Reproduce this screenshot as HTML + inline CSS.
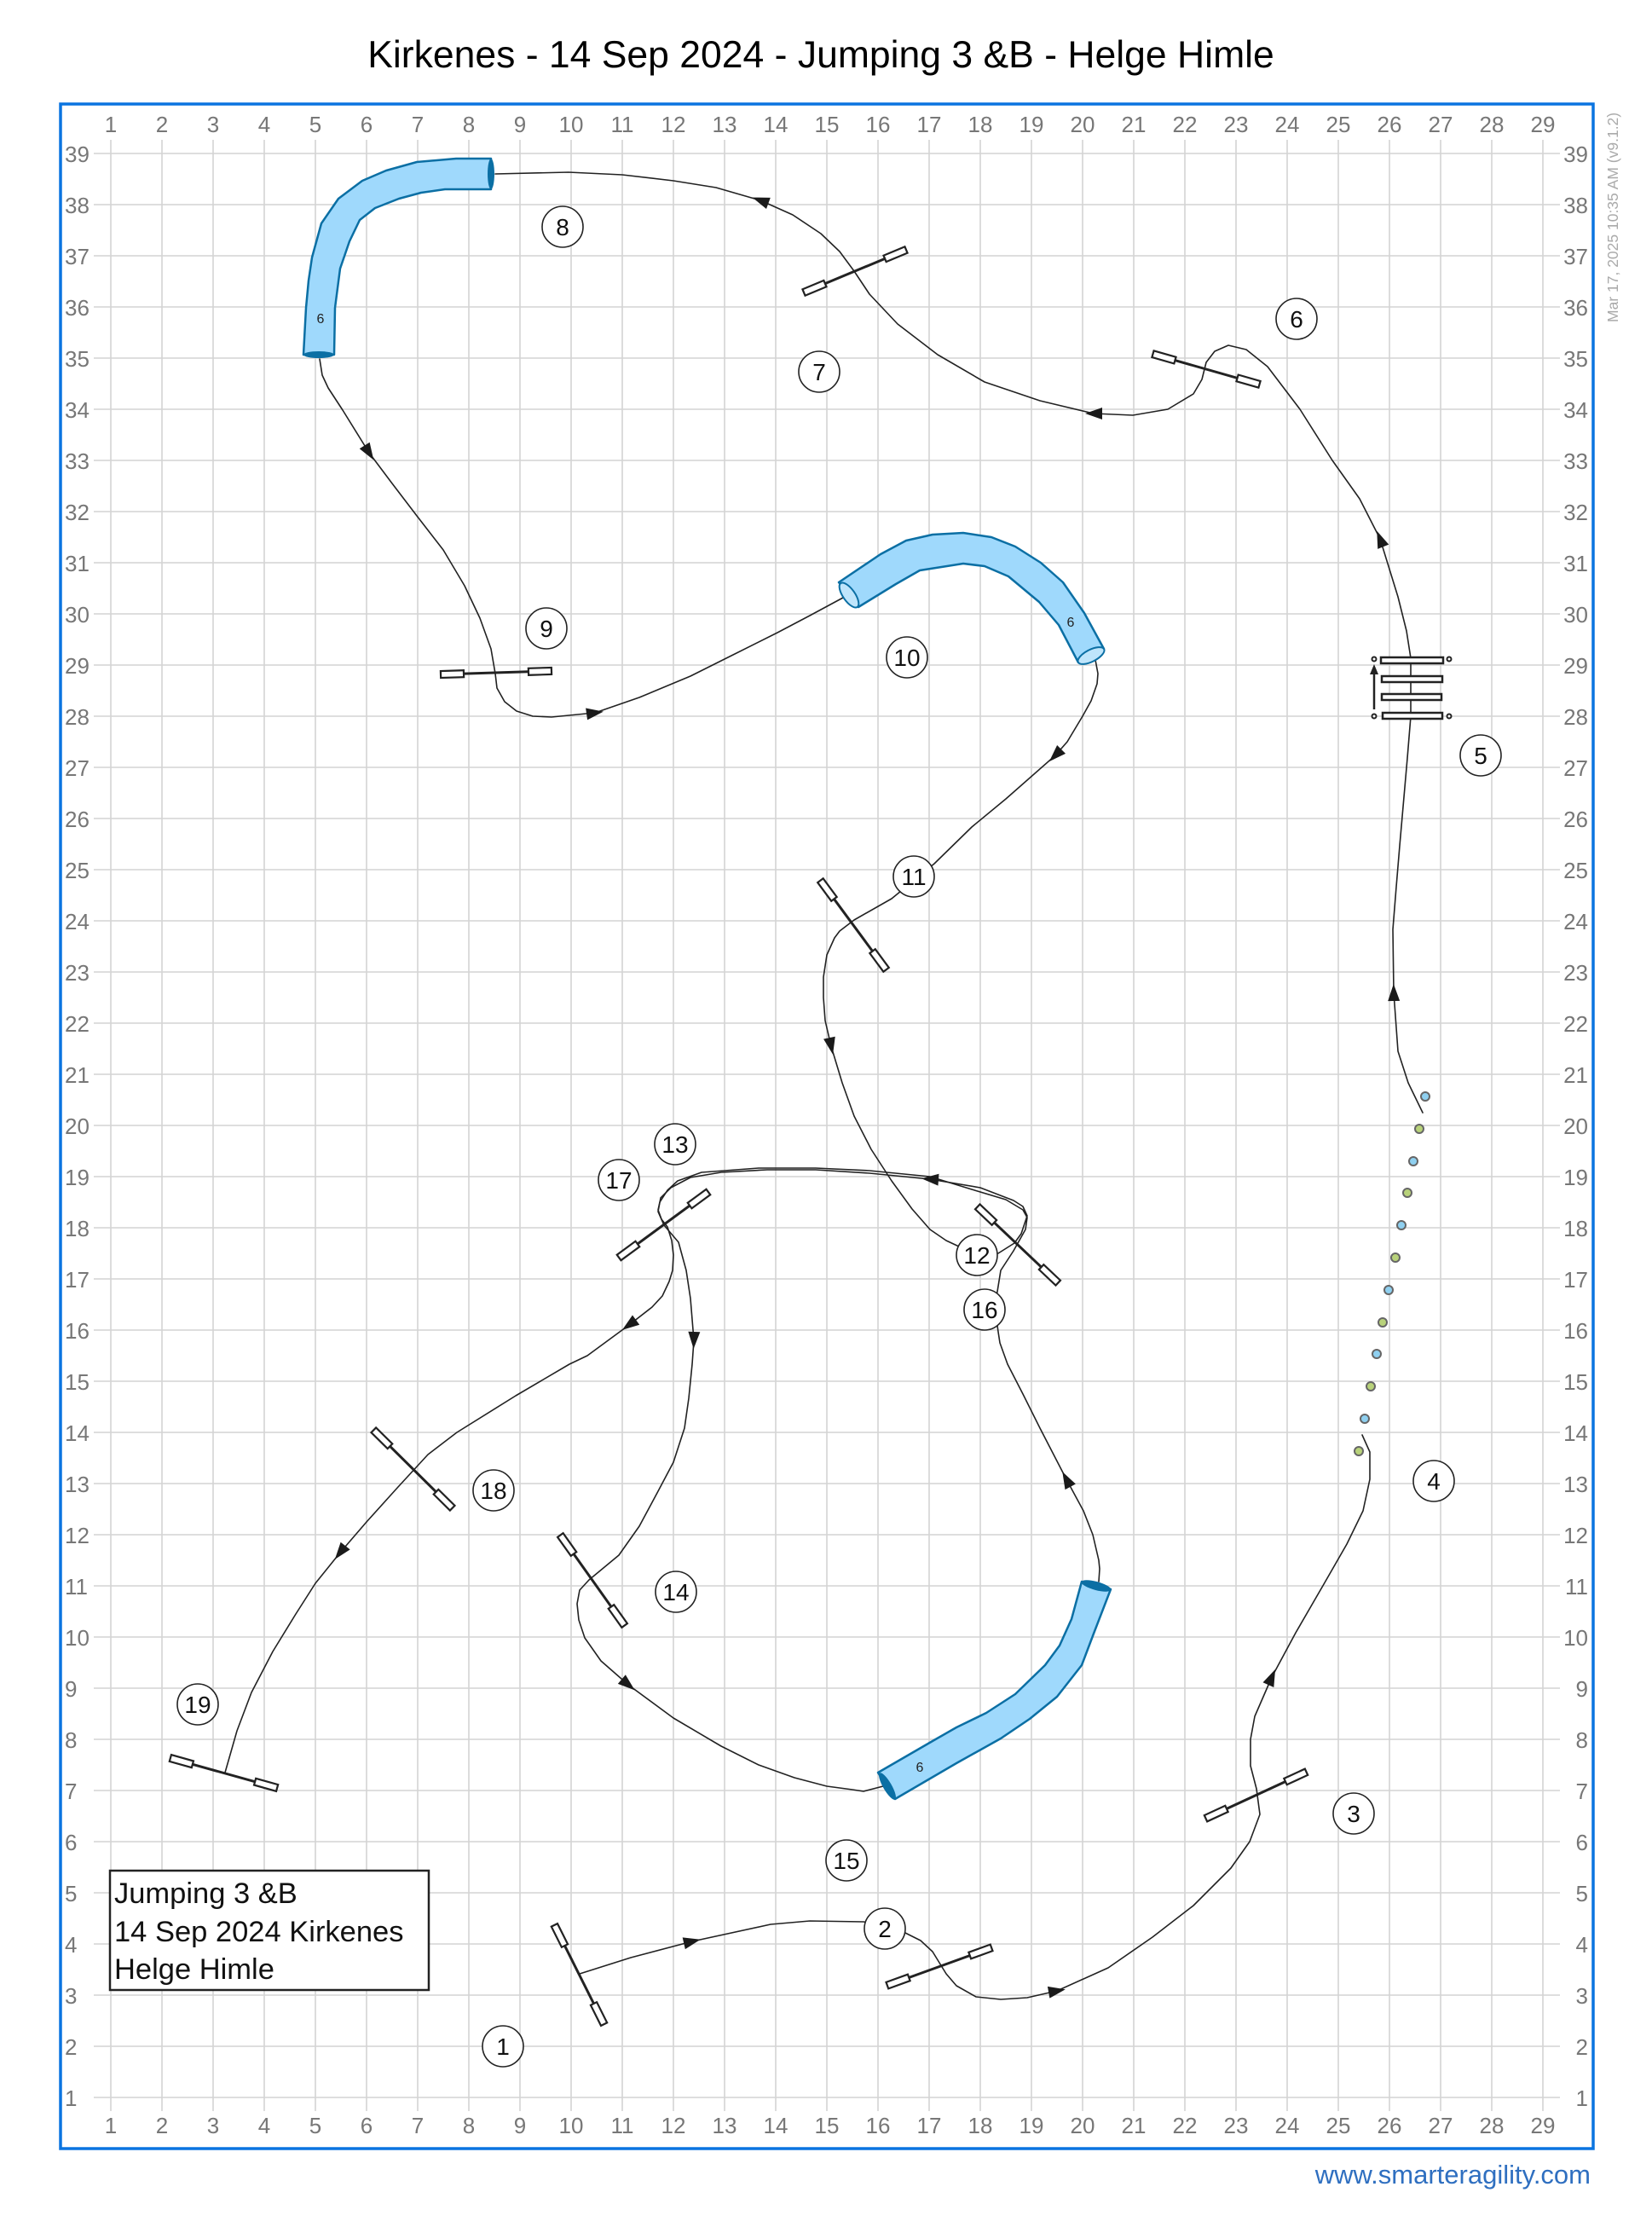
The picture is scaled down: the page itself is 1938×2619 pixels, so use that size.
<!DOCTYPE html>
<html><head><meta charset="utf-8"><style>
html,body{margin:0;padding:0;background:#fff;}
svg{display:block;}
</style></head><body>
<svg width="1938" height="2619" viewBox="0 0 1938 2619" xmlns="http://www.w3.org/2000/svg" font-family="Liberation Sans, Arial, sans-serif">
<rect width="1938" height="2619" fill="#fff"/>
<text x="963" y="79" font-size="44.5" text-anchor="middle" fill="#000">Kirkenes - 14 Sep 2024 - Jumping 3 &amp;B - Helge Himle</text>

<g id="grid" stroke="#d4d4d4" stroke-width="1.6">
<path d="M130 164V2476M190 164V2476M250 164V2476M310 164V2476M370 164V2476M430 164V2476M490 164V2476M550 164V2476M610 164V2476M670 164V2476M730 164V2476M790 164V2476M850 164V2476M910 164V2476M970 164V2476M1030 164V2476M1090 164V2476M1150 164V2476M1210 164V2476M1270 164V2476M1330 164V2476M1390 164V2476M1450 164V2476M1510 164V2476M1570 164V2476M1630 164V2476M1690 164V2476M1750 164V2476M1810 164V2476"/>
<path d="M110 180H1830M110 240H1830M110 300H1830M110 360H1830M110 420H1830M110 480H1830M110 540H1830M110 600H1830M110 660H1830M110 720H1830M110 780H1830M110 840H1830M110 900H1830M110 960H1830M110 1020H1830M110 1080H1830M110 1140H1830M110 1200H1830M110 1260H1830M110 1320H1830M110 1380H1830M110 1440H1830M110 1500H1830M110 1560H1830M110 1620H1830M110 1680H1830M110 1740H1830M110 1800H1830M110 1860H1830M110 1920H1830M110 1980H1830M110 2040H1830M110 2100H1830M110 2160H1830M110 2220H1830M110 2280H1830M110 2340H1830M110 2400H1830M110 2460H1830"/>
</g>

<g font-size="26" fill="#777" text-anchor="middle">
<text x="130" y="155">1</text><text x="190" y="155">2</text><text x="250" y="155">3</text><text x="310" y="155">4</text><text x="370" y="155">5</text><text x="430" y="155">6</text><text x="490" y="155">7</text><text x="550" y="155">8</text><text x="610" y="155">9</text><text x="670" y="155">10</text><text x="730" y="155">11</text><text x="790" y="155">12</text><text x="850" y="155">13</text><text x="910" y="155">14</text><text x="970" y="155">15</text><text x="1030" y="155">16</text><text x="1090" y="155">17</text><text x="1150" y="155">18</text><text x="1210" y="155">19</text><text x="1270" y="155">20</text><text x="1330" y="155">21</text><text x="1390" y="155">22</text><text x="1450" y="155">23</text><text x="1510" y="155">24</text><text x="1570" y="155">25</text><text x="1630" y="155">26</text><text x="1690" y="155">27</text><text x="1750" y="155">28</text><text x="1810" y="155">29</text>
<text x="130" y="2502">1</text><text x="190" y="2502">2</text><text x="250" y="2502">3</text><text x="310" y="2502">4</text><text x="370" y="2502">5</text><text x="430" y="2502">6</text><text x="490" y="2502">7</text><text x="550" y="2502">8</text><text x="610" y="2502">9</text><text x="670" y="2502">10</text><text x="730" y="2502">11</text><text x="790" y="2502">12</text><text x="850" y="2502">13</text><text x="910" y="2502">14</text><text x="970" y="2502">15</text><text x="1030" y="2502">16</text><text x="1090" y="2502">17</text><text x="1150" y="2502">18</text><text x="1210" y="2502">19</text><text x="1270" y="2502">20</text><text x="1330" y="2502">21</text><text x="1390" y="2502">22</text><text x="1450" y="2502">23</text><text x="1510" y="2502">24</text><text x="1570" y="2502">25</text><text x="1630" y="2502">26</text><text x="1690" y="2502">27</text><text x="1750" y="2502">28</text><text x="1810" y="2502">29</text>
</g>
<g font-size="26" fill="#777" text-anchor="start">
<text x="76" y="190">39</text><text x="76" y="250">38</text><text x="76" y="310">37</text><text x="76" y="370">36</text><text x="76" y="430">35</text><text x="76" y="490">34</text><text x="76" y="550">33</text><text x="76" y="610">32</text><text x="76" y="670">31</text><text x="76" y="730">30</text><text x="76" y="790">29</text><text x="76" y="850">28</text><text x="76" y="910">27</text><text x="76" y="970">26</text><text x="76" y="1030">25</text><text x="76" y="1090">24</text><text x="76" y="1150">23</text><text x="76" y="1210">22</text><text x="76" y="1270">21</text><text x="76" y="1330">20</text><text x="76" y="1390">19</text><text x="76" y="1450">18</text><text x="76" y="1510">17</text><text x="76" y="1570">16</text><text x="76" y="1630">15</text><text x="76" y="1690">14</text><text x="76" y="1750">13</text><text x="76" y="1810">12</text><text x="76" y="1870">11</text><text x="76" y="1930">10</text><text x="76" y="1990">9</text><text x="76" y="2050">8</text><text x="76" y="2110">7</text><text x="76" y="2170">6</text><text x="76" y="2230">5</text><text x="76" y="2290">4</text><text x="76" y="2350">3</text><text x="76" y="2410">2</text><text x="76" y="2470">1</text>
</g>
<g font-size="26" fill="#777" text-anchor="end">
<text x="1863" y="190">39</text><text x="1863" y="250">38</text><text x="1863" y="310">37</text><text x="1863" y="370">36</text><text x="1863" y="430">35</text><text x="1863" y="490">34</text><text x="1863" y="550">33</text><text x="1863" y="610">32</text><text x="1863" y="670">31</text><text x="1863" y="730">30</text><text x="1863" y="790">29</text><text x="1863" y="850">28</text><text x="1863" y="910">27</text><text x="1863" y="970">26</text><text x="1863" y="1030">25</text><text x="1863" y="1090">24</text><text x="1863" y="1150">23</text><text x="1863" y="1210">22</text><text x="1863" y="1270">21</text><text x="1863" y="1330">20</text><text x="1863" y="1390">19</text><text x="1863" y="1450">18</text><text x="1863" y="1510">17</text><text x="1863" y="1570">16</text><text x="1863" y="1630">15</text><text x="1863" y="1690">14</text><text x="1863" y="1750">13</text><text x="1863" y="1810">12</text><text x="1863" y="1870">11</text><text x="1863" y="1930">10</text><text x="1863" y="1990">9</text><text x="1863" y="2050">8</text><text x="1863" y="2110">7</text><text x="1863" y="2170">6</text><text x="1863" y="2230">5</text><text x="1863" y="2290">4</text><text x="1863" y="2350">3</text><text x="1863" y="2410">2</text><text x="1863" y="2470">1</text>
</g>

<rect x="71" y="122" width="1798" height="2398" fill="none" stroke="#0a74e0" stroke-width="3.5"/>
<text transform="translate(1898,378) rotate(-90)" font-size="17.5" fill="#aaa">Mar 17, 2025 10:35 AM  (v9.1.2)</text>
<text x="1866" y="2561" font-size="31" fill="#2f6fc0" text-anchor="end">www.smarteragility.com</text>

<!-- course paths -->
<g fill="none" stroke="#222" stroke-width="1.6" stroke-linejoin="round" stroke-linecap="round">
<polyline points="680,2315 740,2296 812,2277 904,2257 950,2253 1013,2254 1040,2258 1062,2267 1080,2276 1094,2289 1110,2315 1122,2329 1145,2342 1174,2345 1205,2343 1240,2335 1300,2308 1352,2272 1400,2235 1444,2191 1466,2160 1478,2128 1474,2098 1467,2071 1467,2040 1472,2013 1492,1967 1520,1915 1553,1858 1580,1811 1599,1772 1607,1735 1607,1703 1598,1683"/>
<polyline points="1669,1305 1652,1270 1640,1233 1635,1164 1634,1090 1638,1040 1642,992 1651,889 1655,840 1655,772 1650,740 1640,700 1619,632 1595,585 1563,540 1525,480 1487,430 1462,410 1441,405 1425,412 1415,425 1410,445 1400,462 1370,480 1329,487 1283,485 1220,470 1155,448 1100,416 1053,380 1020,345 1002,318 985,295 963,274 930,252 892,235 840,220 790,212 730,205 667,202 581,204"/>
<polyline points="375,421 378,440 385,455 402,481 433,531 460,567 489,605 520,645 545,687 563,725 576,761 581,790 583,807 592,823 606,834 625,840 647,841 698,836 750,818 810,793 860,768 912,742 950,722 989,701"/>
<polyline points="1285,774 1288,790 1287,802 1280,822 1270,840 1252,870 1238,886 1180,937 1140,970 1096,1013 1046,1054 1002,1079 985,1092 979,1100 970,1120 966,1146 966,1170 968,1197 975,1227 988,1270 1002,1309 1022,1348 1046,1385 1070,1418 1091,1442 1110,1455 1125,1462 1146,1472 1171,1470 1190,1458 1198,1447 1205,1426 1200,1415 1189,1408 1150,1393 1091,1383 1020,1376 957,1372 900,1372 846,1375 810,1381 787,1393 775,1405 772,1421 779,1437 796,1457 805,1490 810,1523 814,1572 812,1600 808,1640 803,1675 790,1715 772,1749 750,1790 726,1824 691,1853 680,1865 677,1881 679,1900 686,1921 705,1948 737,1976 790,2015 846,2048 890,2070 932,2085 970,2095 1000,2099 1013,2101 1036,2095"/>
<polyline points="1289,1855 1290,1840 1289,1830 1282,1800 1271,1772 1251,1735 1220,1675 1200,1635 1182,1600 1173,1575 1171,1562 1168,1540 1169,1521 1174,1490 1189,1467 1203,1442 1205,1428 1200,1419 1180,1407 1140,1395 1091,1380 1020,1373 957,1370 890,1370 823,1375 795,1385 783,1396 774,1410 772,1419 776,1430 783,1439 788,1455 790,1472 789,1490 785,1503 777,1520 765,1533 738,1554 689,1590 668,1600 605,1637 536,1680 502,1706 467,1744 430,1785 399,1821 370,1857 347,1893 320,1937 295,1985 278,2030 264,2079"/>
</g>

<!-- arrows -->
<g fill="#1a1a1a">
<polygon points="10,0 -10,-7 -10,7" transform="translate(812,2277) rotate(-13)"/>
<polygon points="10,0 -10,-7 -10,7" transform="translate(1240,2335) rotate(-10)"/>
<polygon points="10,0 -10,-7 -10,7" transform="translate(1492,1967) rotate(-66)"/>
<polygon points="10,0 -10,-7 -10,7" transform="translate(1635,1164) rotate(-91)"/>
<polygon points="10,0 -10,-7 -10,7" transform="translate(1619,632) rotate(-112)"/>
<polygon points="10,0 -10,-7 -10,7" transform="translate(1283,485) rotate(180)"/>
<polygon points="10,0 -10,-7 -10,7" transform="translate(892,235) rotate(200)"/>
<polygon points="10,0 -10,-7 -10,7" transform="translate(433,531) rotate(58)"/>
<polygon points="10,0 -10,-7 -10,7" transform="translate(698,836) rotate(-8)"/>
<polygon points="10,0 -10,-7 -10,7" transform="translate(1238,886) rotate(135)"/>
<polygon points="10,0 -10,-7 -10,7" transform="translate(975,1227) rotate(78)"/>
<polygon points="10,0 -10,-7 -10,7" transform="translate(1091,1383) rotate(184)"/>
<polygon points="10,0 -10,-7 -10,7" transform="translate(814,1572) rotate(92)"/>
<polygon points="10,0 -10,-7 -10,7" transform="translate(737,1976) rotate(40)"/>
<polygon points="10,0 -10,-7 -10,7" transform="translate(1251,1735) rotate(-118)"/>
<polygon points="10,0 -10,-7 -10,7" transform="translate(738,1554) rotate(144)"/>
<polygon points="10,0 -10,-7 -10,7" transform="translate(399,1821) rotate(128)"/>
</g>

<!-- tunnels -->
<g fill="#9fd9fc" stroke="#0b6fa4" stroke-width="2.5" stroke-linejoin="round">
<polygon points="356,416 359,361 362,329 366,302 377,262 397,233 425,212 453,200 489,190 535,186 576,186 576,222 522,222 494,226 468,233 440,244 422,258 410,283 399,315 393,361 392,416"/>
<polygon points="984,683 1033,650 1063,634 1094,627 1130,625 1163,630 1191,641 1221,660 1247,683 1272,719 1295,761 1265,777 1242,733 1219,706 1183,676 1155,664 1130,661 1079,669 1051,685 1007,712"/>
<polygon points="1030,2079 1094,2042 1122,2026 1157,2009 1191,1987 1226,1953 1243,1930 1257,1899 1269,1855 1303,1864 1283,1916 1269,1953 1240,1990 1208,2016 1174,2039 1122,2068 1050,2110"/>
</g>
<g fill="#0b6fa4">
<ellipse cx="374" cy="416" rx="18" ry="4"/>
<ellipse cx="576" cy="204" rx="4" ry="18"/>
<ellipse cx="1041" cy="2095" rx="18" ry="5" transform="rotate(60 1041 2095)"/>
<ellipse cx="1286" cy="1860" rx="18" ry="5" transform="rotate(15 1286 1860)"/>
</g>
<g fill="#bfe5fb" stroke="#0b6fa4" stroke-width="2">
<ellipse cx="996" cy="698" rx="17" ry="7" transform="rotate(55 996 698)"/>
<ellipse cx="1280" cy="769" rx="17" ry="7" transform="rotate(-27 1280 769)"/>
</g>
<g font-size="16" fill="#222" text-anchor="middle">
<text x="376" y="379">6</text>
<text x="1256" y="735">6</text>
<text x="1079" y="2078">6</text>
</g>

<!-- jumps -->
<defs>
<g id="jmp">
<line x1="-65" y1="0" x2="65" y2="0" stroke="#222" stroke-width="3"/>
<rect x="-65" y="-4" width="27" height="8" fill="#fff" stroke="#222" stroke-width="2.2"/>
<rect x="38" y="-4" width="27" height="8" fill="#fff" stroke="#222" stroke-width="2.2"/>
</g>
</defs>
<use href="#jmp" transform="translate(679.5,2316) rotate(63.4)"/>
<use href="#jmp" transform="translate(1102,2306.5) rotate(-19.9)"/>
<use href="#jmp" transform="translate(1473.5,2105.5) rotate(-24.8)"/>
<use href="#jmp" transform="translate(1415,433) rotate(15.9)"/>
<use href="#jmp" transform="translate(1003,318) rotate(-22.6)"/>
<use href="#jmp" transform="translate(582,789) rotate(-1.8)"/>
<use href="#jmp" transform="translate(1001,1085) rotate(53.6)"/>
<use href="#jmp" transform="translate(1194,1460) rotate(43.4)"/>
<use href="#jmp" transform="translate(778.5,1436.5) rotate(-36.3)"/>
<use href="#jmp" transform="translate(695,1853.5) rotate(54.6)"/>
<use href="#jmp" transform="translate(484.5,1723) rotate(44.7)"/>
<use href="#jmp" transform="translate(262.5,2079.5) rotate(15.6)"/>

<!-- ladder / jump 5 -->
<g fill="#fff" stroke="#222" stroke-width="2.5">
<rect x="1620" y="771" width="73" height="7"/>
<rect x="1621" y="793" width="71" height="7"/>
<rect x="1621" y="814" width="70" height="7"/>
<rect x="1622" y="836" width="70" height="7"/>
</g>
<g fill="#fff" stroke="#222" stroke-width="2">
<circle cx="1612" cy="773" r="2.5"/><circle cx="1700" cy="773" r="2.5"/>
<circle cx="1612" cy="840" r="2.5"/><circle cx="1700" cy="840" r="2.5"/>
</g>
<line x1="1612" y1="832" x2="1612" y2="788" stroke="#222" stroke-width="2.5"/>
<polygon points="1612,779 1607,791 1617,791" fill="#222"/>

<!-- weave -->
<g stroke="#666" stroke-width="2">
<circle cx="1672" cy="1286" r="5" fill="#8fd0f0"/>
<circle cx="1665" cy="1324" r="5" fill="#b8d27a"/>
<circle cx="1658" cy="1362" r="5" fill="#8fd0f0"/>
<circle cx="1651" cy="1399" r="5" fill="#b8d27a"/>
<circle cx="1644" cy="1437" r="5" fill="#8fd0f0"/>
<circle cx="1637" cy="1475" r="5" fill="#b8d27a"/>
<circle cx="1629" cy="1513" r="5" fill="#8fd0f0"/>
<circle cx="1622" cy="1551" r="5" fill="#b8d27a"/>
<circle cx="1615" cy="1588" r="5" fill="#8fd0f0"/>
<circle cx="1608" cy="1626" r="5" fill="#b8d27a"/>
<circle cx="1601" cy="1664" r="5" fill="#8fd0f0"/>
<circle cx="1594" cy="1702" r="5" fill="#b8d27a"/>
</g>

<!-- number circles -->
<g fill="#fff" stroke="#222" stroke-width="1.6">
<circle cx="590" cy="2400" r="24"/><circle cx="1038" cy="2262" r="24"/><circle cx="1588" cy="2127" r="24"/><circle cx="1682" cy="1737" r="24"/><circle cx="1737" cy="886" r="24"/><circle cx="1521" cy="374" r="24"/><circle cx="961" cy="436" r="24"/><circle cx="660" cy="266" r="24"/><circle cx="641" cy="737" r="24"/><circle cx="1064" cy="771" r="24"/><circle cx="1072" cy="1028" r="24"/><circle cx="1146" cy="1472" r="24"/><circle cx="792" cy="1342" r="24"/><circle cx="793" cy="1867" r="24"/><circle cx="993" cy="2182" r="24"/><circle cx="1155" cy="1536" r="24"/><circle cx="726" cy="1384" r="24"/><circle cx="579" cy="1748" r="24"/><circle cx="232" cy="1999" r="24"/>
</g>
<g font-size="28" fill="#111" text-anchor="middle">
<text x="590" y="2410">1</text><text x="1038" y="2272">2</text><text x="1588" y="2137">3</text><text x="1682" y="1747">4</text><text x="1737" y="896">5</text><text x="1521" y="384">6</text><text x="961" y="446">7</text><text x="660" y="276">8</text><text x="641" y="747">9</text><text x="1064" y="781">10</text><text x="1072" y="1038">11</text><text x="1146" y="1482">12</text><text x="792" y="1352">13</text><text x="793" y="1877">14</text><text x="993" y="2192">15</text><text x="1155" y="1546">16</text><text x="726" y="1394">17</text><text x="579" y="1758">18</text><text x="232" y="2009">19</text>
</g>

<!-- info box -->
<rect x="129" y="2194" width="374" height="140" fill="#fff" stroke="#222" stroke-width="2.5"/>
<g font-size="34.5" fill="#111">
<text x="134" y="2232">Jumping 3 &amp;B</text>
<text x="134" y="2277">14 Sep 2024 Kirkenes</text>
<text x="134" y="2321">Helge Himle</text>
</g>
</svg>
</body></html>
